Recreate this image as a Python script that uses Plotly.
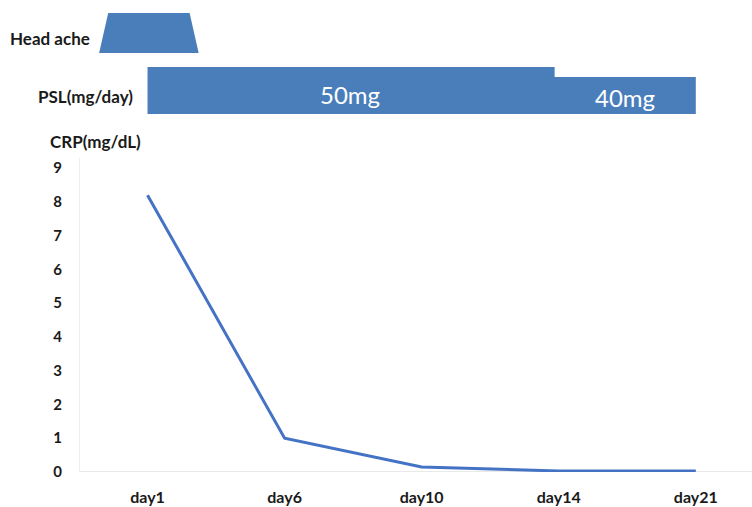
import plotly.graph_objects as go

# ---- data ----
days = ["day1", "day6", "day10", "day14", "day21"]
crp = [8.2, 1.0, 0.15, 0.03, 0.03]
y_ticks = [0, 1, 2, 3, 4, 5, 6, 7, 8, 9]
psl_doses = ["50mg", "40mg"]
psl_start = [0, 2.97]      # day index where dose starts
psl_end = [2.97, 4]        # day index where dose ends
headache_span = [-0.32, 0.34]  # day index span of headache

BLUE = "#4a7ebb"
LINE = "#4472c4"
FONT = "Lato, Open Sans, sans-serif"
TXT = "#1a1a1a"

W, H = 752, 507
L, B, TOP = 79, 35, 158
x_idx = list(range(len(days)))

fig = go.Figure()

# CRP line
fig.add_trace(go.Scatter(x=x_idx, y=crp, mode="lines",
                         line=dict(color=LINE, width=3), hoverinfo="skip",
                         showlegend=False, xaxis="x", yaxis="y"))

# headache trapezoid (y2 is in pixels from top)
h0, h1 = headache_span
slant = 0.033
fig.add_trace(go.Scatter(
    x=[h0 - slant, h0 + slant, h1 - slant, h1 + slant, h0 - slant],
    y=[53, 13, 13, 53, 53], mode="lines", fill="toself",
    fillcolor=BLUE, line=dict(width=0, color=BLUE),
    hoverinfo="skip", showlegend=False, xaxis="x", yaxis="y2"))

# PSL step bar
tops = [67, 77]
bottom = 114
px = [psl_start[0], psl_start[0], psl_end[0], psl_start[1], psl_end[1], psl_end[1], psl_start[0]]
py = [bottom, tops[0], tops[0], tops[1], tops[1], bottom, bottom]
fig.add_trace(go.Scatter(x=px, y=py, mode="lines", fill="toself",
                         fillcolor=BLUE, line=dict(width=0, color=BLUE),
                         hoverinfo="skip", showlegend=False,
                         xaxis="x", yaxis="y2"))

label_x = [1.48, 3.48]
label_y = [94, 97]
for d, lx, ly in zip(psl_doses, label_x, label_y):
    fig.add_annotation(x=lx, y=ly, xref="x", yref="y2", text=d, showarrow=False,
                       font=dict(family=FONT, size=24, color="white"))

# side labels (right edge given in page px)
side = [("Head ache", 92, 38), ("PSL(mg/day)", 135, 96), ("CRP(mg/dL)", 143, 141)]
for txt, xr, yy in side:
    fig.add_annotation(x=(xr - L) / (W - L), y=yy, xref="paper", yref="y2",
                       text=f"<b>{txt}</b>", showarrow=False, xanchor="right",
                       font=dict(family=FONT, size=17, color=TXT))

top_frac = (H - B - TOP) / (H - B)

fig.update_layout(
    width=W, height=H,
    margin=dict(l=L, r=0, t=0, b=B),
    paper_bgcolor="white", plot_bgcolor="white",
    showlegend=False,
    xaxis=dict(range=[-0.5, 4.41], tickvals=x_idx, ticktext=[f"<b>{d}</b>" for d in days],
               showgrid=False, zeroline=False, showline=False, automargin=False,
               ticks="outside", ticklen=11, tickcolor="rgba(0,0,0,0)",
               tickfont=dict(family=FONT, size=16, color=TXT),
               fixedrange=True),
    yaxis=dict(domain=[0, top_frac], range=[0, 9.3], tickvals=y_ticks,
               ticktext=[f"<b>{t}</b>" for t in y_ticks],
               showgrid=False, zeroline=False, showline=False, automargin=False,
               ticks="outside", ticklen=13, tickcolor="rgba(0,0,0,0)",
               tickfont=dict(family=FONT, size=15, color=TXT),
               fixedrange=True),
    yaxis2=dict(domain=[top_frac, 1], range=[TOP, 0], visible=False,
                anchor="x", fixedrange=True, automargin=False),
)

# axis lines
fig.add_shape(type="line", xref="x", yref="y", x0=-0.5, x1=4.41, y0=0, y1=0,
              line=dict(color="#d4d4d4", width=1.2), layer="below")
fig.add_shape(type="line", xref="x", yref="y", x0=-0.5, x1=-0.5, y0=0, y1=9.3,
              line=dict(color="#e2e2dc", width=1.2), layer="below")

fig.write_html("out.html")
